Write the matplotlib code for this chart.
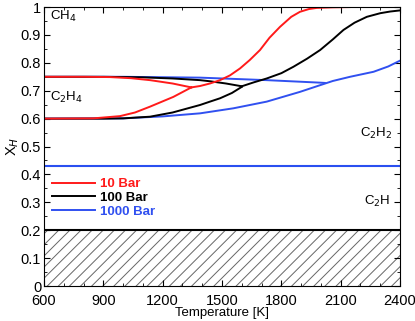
import numpy as np
import matplotlib
matplotlib.use("Agg")
import matplotlib.pyplot as plt
from matplotlib.ticker import MultipleLocator

plt.rcParams['font.family'] = ['Liberation Sans', 'DejaVu Sans']
plt.rcParams['hatch.linewidth'] = 0.7

# 10 bar
red_up_T = [600, 800, 934, 1040, 1136, 1250, 1345]
red_up_X = [0.750, 0.750, 0.749, 0.745, 0.738, 0.726, 0.712]
red_lo_T = [600, 850, 984, 1060, 1136, 1254, 1345]
red_lo_X = [0.600, 0.601, 0.609, 0.622, 0.643, 0.678, 0.712]
red_m_T = [1345, 1389, 1439, 1490, 1540, 1591, 1640, 1692, 1740, 1793, 1850, 1894, 1940, 1979, 2060, 2147]
red_m_X = [0.712, 0.717, 0.726, 0.738, 0.755, 0.780, 0.810, 0.846, 0.890, 0.929, 0.965, 0.983, 0.993, 0.997, 0.999, 1.000]

# 100 bar
blk_up_T = [600, 900, 1100, 1250, 1389, 1439, 1520, 1600]
blk_up_X = [0.750, 0.750, 0.748, 0.744, 0.738, 0.734, 0.726, 0.716]
blk_lo_T = [600, 900, 1000, 1136, 1250, 1389, 1439, 1490, 1550, 1600]
blk_lo_X = [0.600, 0.600, 0.601, 0.607, 0.622, 0.649, 0.661, 0.673, 0.692, 0.714]
blk_m_T = [1600, 1660, 1726, 1800, 1861, 1930, 1996, 2060, 2114, 2170, 2232, 2300, 2350, 2400]
blk_m_X = [0.716, 0.730, 0.744, 0.763, 0.786, 0.815, 0.846, 0.884, 0.918, 0.944, 0.965, 0.978, 0.984, 0.988]

# 1000 bar
blu_up_T = [600, 1000, 1389, 1726, 1996, 2020]
blu_up_X = [0.750, 0.750, 0.747, 0.738, 0.729, 0.728]
blu_lo_T = [600, 1000, 1200, 1389, 1557, 1726, 1894, 1996, 2060, 2147, 2266, 2340, 2400]
blu_lo_X = [0.600, 0.601, 0.608, 0.619, 0.637, 0.661, 0.696, 0.720, 0.735, 0.750, 0.768, 0.787, 0.808]

c2h_level = 0.43
floor_level = 0.2
T_range = [600, 2400]

fig = plt.figure(figsize=(4.15, 3.21), dpi=100)
ax = fig.add_axes([0.106, 0.109, 0.858, 0.869])

ax.fill_between(T_range, 0, floor_level, facecolor='white', edgecolor='#666666',
                hatch='///', linewidth=0)
ax.plot(T_range, [floor_level]*2, color='black', lw=1.5)
ax.plot(T_range, [c2h_level]*2, color='#2a4ff0', lw=1.5)

red = '#ff1a1a'
blk = 'black'
blu = '#3050f0'
lw = 1.4
ax.plot(blu_up_T, blu_up_X, color=blu, lw=lw)
ax.plot(blu_lo_T, blu_lo_X, color=blu, lw=lw, label='1000 Bar')
ax.plot(blk_up_T, blk_up_X, color=blk, lw=lw)
ax.plot(blk_lo_T, blk_lo_X, color=blk, lw=lw, label='100 Bar')
ax.plot(blk_m_T, blk_m_X, color=blk, lw=lw)
ax.plot(red_up_T, red_up_X, color=red, lw=lw)
ax.plot(red_lo_T, red_lo_X, color=red, lw=lw, label='10 Bar')
ax.plot(red_m_T, red_m_X, color=red, lw=lw)

handles, labels = ax.get_legend_handles_labels()
leg = ax.legend(handles[::-1], labels[::-1], loc='upper left',
                bbox_to_anchor=(0.0, 0.415), frameon=False, handlelength=3.3,
                handletextpad=0.35, labelspacing=0.1, borderaxespad=0.2,
                labelcolor='linecolor', prop={'weight': 'bold', 'size': 9.5})

ax.text(630, 0.955, 'CH$_4$', fontsize=9.5)
ax.text(630, 0.665, 'C$_2$H$_4$', fontsize=9.5)
ax.text(2195, 0.535, 'C$_2$H$_2$', fontsize=9.5)
ax.text(2220, 0.29, 'C$_2$H', fontsize=9.5)

ax.set_xlim(600, 2400)
ax.set_ylim(0, 1)
ax.set_xticks([600, 900, 1200, 1500, 1800, 2100, 2400])
ax.set_yticks(np.arange(0, 1.01, 0.1))
ax.set_yticklabels(['0', '0.1', '0.2', '0.3', '0.4', '0.5', '0.6', '0.7', '0.8', '0.9', '1'])
ax.xaxis.set_minor_locator(MultipleLocator(100))
ax.yaxis.set_minor_locator(MultipleLocator(0.05))
ax.tick_params(which='both', direction='in', top=True, right=True, labelsize=10.5)
ax.tick_params(axis='y', pad=2)
ax.tick_params(axis='x', pad=6)
ax.tick_params(which='major', length=4)
ax.tick_params(which='minor', length=2)
ax.set_xlabel('Temperature [K]', fontsize=9.5, labelpad=-1)
ax.set_ylabel('X$_H$', fontsize=10.5, labelpad=0)

fig.savefig('out.png', dpi=100)
